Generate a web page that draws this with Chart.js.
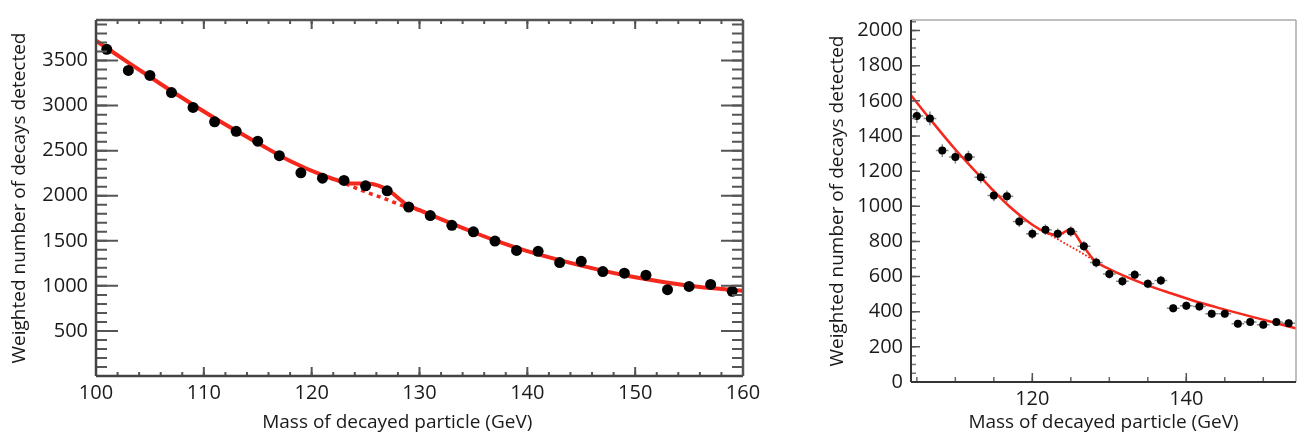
<!DOCTYPE html>
<html><head><meta charset="utf-8">
<script src="https://cdn.jsdelivr.net/npm/chart.js@4.4.1/dist/chart.umd.min.js"></script>
<style>
html,body{margin:0;padding:0;background:#fff;width:1300px;height:437px;overflow:hidden}
#c1{position:absolute;left:0;top:0}
#c2{position:absolute;left:818px;top:0}
</style></head><body>
<canvas id="c1" width="780" height="437"></canvas>
<canvas id="c2" width="482" height="437"></canvas>
<script>
// ---------- Left panel ----------
const leftMass   = [101,103,105,107,109,111,113,115,117,119,121,123,125,127,129,131,133,135,137,139,141,143,145,147,149,151,153,155,157,159];
const leftCounts = [3625,3390,3335,3145,2980,2820,2715,2605,2445,2255,2195,2170,2110,2055,1875,1780,1672,1600,1497,1393,1383,1258,1273,1159,1141,1119,958,994,1016,940];
const leftFitMass   = [100,103,106,109,112,115,118,121,123,123.6,125.4,127,128.8,130,133,135,137,140,145,150,155,160];
const leftFitCounts = [3720,3478,3240,3010,2790,2585,2385,2228,2150,2136,2134,2068,1903,1840,1690,1595,1505,1385,1225,1095,1002,945];
const leftBgMass   = [121,123,125,127,128.3,129,130];
const leftBgCounts = [2228,2140,2042,1958,1895,1872,1840];
const leftXTicks = [100,110,120,130,140,150,160];
const leftYTicks = [500,1000,1500,2000,2500,3000,3500];

// ---------- Right panel ----------
const rightMass   = [105.0,106.7,108.3,110.0,111.7,113.3,115.0,116.7,118.3,120.0,121.7,123.3,125.0,126.7,128.3,130.0,131.7,133.3,135.0,136.7,138.3,140.0,141.7,143.3,145.0,146.7,148.3,150.0,151.7,153.3];
const rightCounts = [1513,1500,1317,1280,1280,1165,1062,1057,913,844,866,844,857,773,680,615,574,611,559,578,419,434,429,388,388,332,341,326,341,335];
const rightErrors = [39,39,36,36,36,34,33,33,31,30,30,30,30,29,28,27,27,27,26,26,24,24,24,23,23,22,22,22,22,22];
const rightFitMass   = [104.24,106.7,110,113,115,117,120,121.6,123.2,124.9,126.6,128.1,130,132,135,138,141.7,145,148.2,151,154.25];
const rightFitCounts = [1632,1497,1323,1180,1086,1000,895,855,835,866,774,690,643,602,550,505,452,412,375,343,305];
const rightBgMass   = [121.6,124,126,128.1];
const rightBgCounts = [855,795,745,690];
const rightXTicks = [120,140];
const rightYTicks = [0,200,400,600,800,1000,1200,1400,1600,1800,2000];

const RED = '#f4281c';
const FONT = "'Open Sans', 'DejaVu Sans', sans-serif";
const pts = (xs, ys) => xs.map((x, i) => ({x, y: ys[i]}));

const decor = {
  id: 'decor',
  beforeDatasetsDraw(chart, args, o) {
    if (!o.errors) return;
    const {ctx} = chart, xs = chart.scales.x, ys = chart.scales.y, E = o.errors;
    ctx.save();
    ctx.strokeStyle = E.color; ctx.lineWidth = E.width;
    ctx.beginPath();
    E.x.forEach((m, i) => {
      const v = E.y[i], e = E.e[i];
      const px = xs.getPixelForValue(m), py = ys.getPixelForValue(v);
      ctx.moveTo(xs.getPixelForValue(m - E.hw), py);
      ctx.lineTo(xs.getPixelForValue(m + E.hw), py);
      ctx.moveTo(px, ys.getPixelForValue(v - e));
      ctx.lineTo(px, ys.getPixelForValue(v + e));
    });
    ctx.stroke();
    ctx.restore();
  },
  afterDatasetsDraw(chart, args, o) {
    const {ctx, chartArea: a} = chart, xs = chart.scales.x, ys = chart.scales.y;
    ctx.save();
    (o.ticks || []).forEach(t => {
      const sc = t.axis === 'x' ? xs : ys;
      ctx.strokeStyle = t.color; ctx.lineWidth = t.width;
      ctx.beginPath();
      const start = Math.ceil(sc.min / t.step - 1e-9);
      for (let k = start; k * t.step <= sc.max + 1e-9; k++) {
        const p = sc.getPixelForValue(k * t.step);
        t.sides.forEach(s => {
          if (s === 'bottom') { ctx.moveTo(p, a.bottom); ctx.lineTo(p, a.bottom - t.len); }
          if (s === 'top')    { ctx.moveTo(p, a.top);    ctx.lineTo(p, a.top + t.len); }
          if (s === 'left')   { ctx.moveTo(a.left, p);   ctx.lineTo(a.left + t.len, p); }
          if (s === 'right')  { ctx.moveTo(a.right, p);  ctx.lineTo(a.right - t.len, p); }
        });
      }
      ctx.stroke();
    });
    (o.frame || []).forEach(f => {
      ctx.strokeStyle = f.color; ctx.lineWidth = f.width;
      ctx.beginPath();
      if (f.side === 'bottom') { ctx.moveTo(a.left, a.bottom); ctx.lineTo(a.right, a.bottom); }
      if (f.side === 'top')    { ctx.moveTo(a.left, a.top);    ctx.lineTo(a.right, a.top); }
      if (f.side === 'left')   { ctx.moveTo(a.left, a.top);    ctx.lineTo(a.left, a.bottom); }
      if (f.side === 'right')  { ctx.moveTo(a.right, a.top);   ctx.lineTo(a.right, a.bottom); }
      ctx.stroke();
    });
    ctx.restore();
  }
};

function makeChart(id, cfg) {
  return new Chart(document.getElementById(id), {
    type: 'scatter',
    data: {
      datasets: [
        {data: pts(cfg.mass, cfg.counts), pointRadius: cfg.r, pointBackgroundColor: '#000', pointBorderWidth: 0, showLine: false},
        {data: pts(cfg.fitMass, cfg.fitCounts), showLine: true, pointRadius: 0, borderColor: RED, borderWidth: cfg.lw, cubicInterpolationMode: 'monotone'},
        {data: pts(cfg.bgMass, cfg.bgCounts), showLine: true, pointRadius: 0, borderColor: RED, borderWidth: cfg.dw, borderDash: cfg.dash, cubicInterpolationMode: 'monotone'}
      ]
    },
    options: {
      responsive: false, animation: false, devicePixelRatio: 1,
      layout: {padding: cfg.pad},
      plugins: {legend: {display: false}, tooltip: {enabled: false}, decor: cfg.decor},
      scales: {
        x: {
          type: 'linear', min: cfg.xmin, max: cfg.xmax,
          grid: {display: false, drawTicks: false}, border: {display: false},
          afterBuildTicks: s => { s.ticks = cfg.xTicks.map(v => ({value: v})); },
          afterFit: s => { s.height = cfg.xh; },
          ticks: {color: '#1a1a1a', font: {family: FONT, size: 20}, padding: 5, maxRotation: 0, autoSkip: false, callback: v => String(v)},
          title: {display: true, text: cfg.xTitle, color: '#1a1a1a', font: {family: FONT, size: 19}, padding: {top: 0, bottom: 3}}
        },
        y: {
          type: 'linear', min: 0, max: cfg.ymax,
          grid: {display: false, drawTicks: false}, border: {display: false},
          afterBuildTicks: s => { s.ticks = cfg.yTicks.map(v => ({value: v})); },
          afterFit: s => { s.width = cfg.yw; },
          ticks: {color: '#1a1a1a', font: {family: FONT, size: 20}, padding: 8, autoSkip: false, callback: v => String(v)},
          title: {display: true, text: 'Weighted number of decays detected', color: '#1a1a1a', font: {family: FONT, size: 19}, padding: {top: 8, bottom: 0}}
        }
      }
    },
    plugins: [decor]
  });
}

makeChart('c1', {
  mass: leftMass, counts: leftCounts, fitMass: leftFitMass, fitCounts: leftFitCounts, bgMass: leftBgMass, bgCounts: leftBgCounts,
  r: 5.5, lw: 4, dw: 3.5, dash: [4, 4.3],
  xmin: 100, xmax: 160, ymax: 3950, xTicks: leftXTicks, yTicks: leftYTicks,
  pad: {left: 0, top: 13, right: 37, bottom: 0}, xh: 61, yw: 96,
  xTitle: 'Mass of decayed particle (GeV)\u00A0\u00A0\u00A0\u00A0\u00A0\u00A0\u00A0\u00A0\u00A0',
  decor: {
    ticks: [
      {axis: 'x', step: 2, len: 4, sides: ['bottom', 'top'], color: '#555', width: 2},
      {axis: 'x', step: 10, len: 9, sides: ['bottom', 'top'], color: '#555', width: 2},
      {axis: 'y', step: 100, len: 11, sides: ['left', 'right'], color: '#555', width: 2},
      {axis: 'y', step: 500, len: 22, sides: ['left', 'right'], color: '#555', width: 2}
    ],
    frame: [
      {side: 'bottom', color: '#444', width: 2.5}, {side: 'top', color: '#555', width: 2.5},
      {side: 'left', color: '#444', width: 2.5}, {side: 'right', color: '#555', width: 2.5}
    ]
  }
});

makeChart('c2', {
  mass: rightMass, counts: rightCounts, fitMass: rightFitMass, fitCounts: rightFitCounts, bgMass: rightBgMass, bgCounts: rightBgCounts,
  r: 4, lw: 2.5, dw: 1.8, dash: [1.8, 1.8],
  xmin: 104.24, xmax: 154.25, ymax: 2060, xTicks: rightXTicks, yTicks: rightYTicks,
  pad: {left: 0, top: 13, right: 3, bottom: 0}, xh: 55, yw: 93,
  xTitle: 'Mass of decayed particle (GeV)',
  decor: {
    errors: {x: rightMass, y: rightCounts, e: rightErrors, hw: 0.83, color: '#8a8a8a', width: 1.5},
    ticks: [
      {axis: 'x', step: 5, len: 5, sides: ['bottom'], color: '#666', width: 1.5},
      {axis: 'x', step: 20, len: 9, sides: ['bottom'], color: '#555', width: 1.5},
      {axis: 'y', step: 50, len: 5, sides: ['left'], color: '#777', width: 1.5},
      {axis: 'y', step: 200, len: 9, sides: ['left'], color: '#555', width: 1.5}
    ],
    frame: [
      {side: 'top', color: '#aaa', width: 1.5}, {side: 'right', color: '#aaa', width: 1.5},
      {side: 'bottom', color: '#333', width: 2}, {side: 'left', color: '#333', width: 2}
    ]
  }
});
</script>
</body></html>
